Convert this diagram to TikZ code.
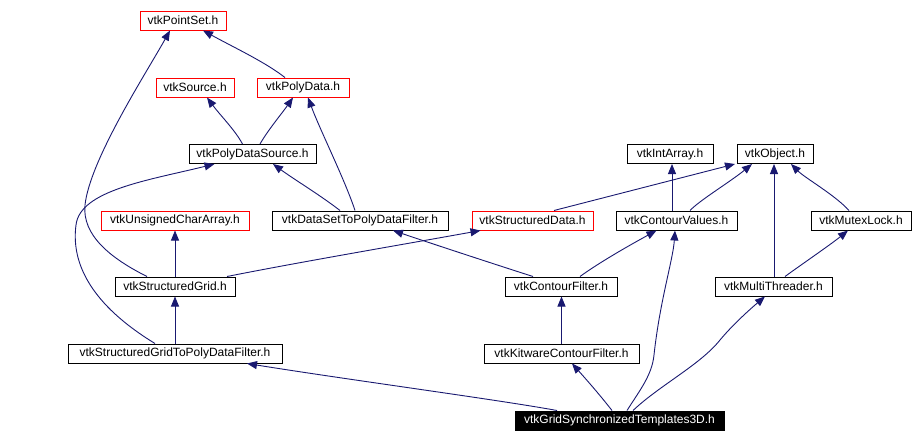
\documentclass[tikz,border=0pt]{standalone}
\usepackage{fontspec}
\setmainfont{Liberation Sans}
\usetikzlibrary{arrows.meta}
\definecolor{edgeblue}{RGB}{25,25,112}
\definecolor{boxred}{RGB}{255,0,0}
\tikzset{
  hdr/.style={draw=black, line width=1pt, minimum height=19pt, inner sep=0pt,
    font=\fontsize{12}{14}\selectfont, anchor=center},
  redhdr/.style={hdr, draw=boxred},
  curhdr/.style={hdr, fill=black, text=white},
  dep/.style={draw=edgeblue, line width=0.9pt, -{Triangle[length=10pt,width=8pt]}}
}
\begin{document}
\begin{tikzpicture}[x=1pt,y=-1pt]
\useasboundingbox (0,0) rectangle (914,442);
% nodes
\node[redhdr, minimum width=86pt]  (pointset) at (183,20.5) {vtkPointSet.h};
\node[redhdr, minimum width=78pt]  (source)   at (195,87.5) {vtkSource.h};
\node[redhdr, minimum width=92pt]  (polydata) at (303,87.5) {vtkPolyData.h};
\node[hdr, minimum width=127pt]    (pds)      at (252.5,154) {vtkPolyDataSource.h};
\node[hdr, minimum width=86pt]     (intarray) at (670,154) {vtkIntArray.h};
\node[hdr, minimum width=76pt]     (object)   at (775,154) {vtkObject.h};
\node[redhdr, minimum width=148pt] (uca)      at (175,220.5) {vtkUnsignedCharArray.h};
\node[hdr, minimum width=176pt]    (dstpdf)   at (360,220.5) {vtkDataSetToPolyDataFilter.h};
\node[redhdr, minimum width=121pt] (sdata)    at (532.5,220.5) {vtkStructuredData.h};
\node[hdr, minimum width=121pt]    (cvalues)  at (676.5,220.5) {vtkContourValues.h};
\node[hdr, minimum width=100pt]    (mutex)    at (861,220.5) {vtkMutexLock.h};
\node[hdr, minimum width=120pt]    (sgrid)    at (175,286.5) {vtkStructuredGrid.h};
\node[hdr, minimum width=112pt]    (cfilter)  at (561,286.5) {vtkContourFilter.h};
\node[hdr, minimum width=117pt]    (mthread)  at (773.5,286.5) {vtkMultiThreader.h};
\node[hdr, minimum width=214pt]    (sgtpdf)   at (175,353.5) {vtkStructuredGridToPolyDataFilter.h};
\node[hdr, minimum width=155pt]    (kcf)      at (561.5,353.5) {vtkKitwareContourFilter.h};
\node[curhdr, minimum width=209pt] (gst)      at (619.5,420.5) {vtkGridSynchronizedTemplates3D.h};
% edges
\draw[dep] ([xshift=-28pt]sgrid.north) .. controls (110,258) and (82,235) .. (85,205)
  .. controls (90,160) and (145,75) .. ([xshift=-13pt]pointset.south);
\draw[dep] ([xshift=-20pt]sgtpdf.north) .. controls (100,310) and (70,270) .. (76,225)
  .. controls (80,190) and (150,180) .. ([xshift=-38pt]pds.south);
\draw[dep] ([xshift=-18pt]polydata.north) .. controls (265,62) and (235,48) .. ([xshift=20pt]pointset.south);
\draw[dep] ([xshift=-10pt]pds.north) .. controls (235,130) and (220,115) .. ([xshift=12pt]source.south);
\draw[dep] ([xshift=7.5pt]pds.north) .. controls (268,130) and (283,112) .. ([xshift=-10pt]polydata.south);
\draw[dep] ([xshift=-5pt]dstpdf.north) .. controls (345,180) and (320,130) .. ([xshift=5pt]polydata.south);
\draw[dep] ([xshift=-20pt]dstpdf.north) .. controls (320,195) and (295,180) .. ([xshift=20.5pt]pds.south);
\draw[dep] (sgrid.north) -- (uca.south);
\draw[dep] ([xshift=52pt]sgrid.north) .. controls (300,262) and (400,245) .. ([xshift=-52pt]sdata.south);
\draw[dep] ([xshift=-28pt]cfilter.north) .. controls (500,266) and (430,243) .. ([xshift=33pt]dstpdf.south);
\draw[dep] ([xshift=19pt]cfilter.north) .. controls (600,262) and (630,245) .. ([xshift=-20pt]cvalues.south);
\draw[dep] ([xshift=21.5pt]sdata.north) -- ([xshift=-40pt]object.south);
\draw[dep] ([xshift=-4.5pt]cvalues.north) -- ([xshift=2pt]intarray.south);
\draw[dep] ([xshift=13.5pt]cvalues.north) .. controls (700,200) and (730,182) .. ([xshift=-23pt]object.south);
\draw[dep] ([xshift=0.5pt]mthread.north) -- ([xshift=-1pt]object.south);
\draw[dep] ([xshift=-12pt]mutex.north) .. controls (835,195) and (805,178) .. ([xshift=16pt]object.south);
\draw[dep] ([xshift=11.5pt]mthread.north) .. controls (805,262) and (830,245) .. ([xshift=-13pt]mutex.south);
\draw[dep] (kcf.north) -- ([xshift=0.5pt]cfilter.south);
\draw[dep] (sgtpdf.north) -- (sgrid.south);
\draw[dep] ([xshift=-62.5pt]gst.north) .. controls (500,400) and (350,380) .. ([xshift=72pt]sgtpdf.south);
\draw[dep] ([xshift=-7.5pt]gst.north) .. controls (600,395) and (585,378) .. ([xshift=10.5pt]kcf.south);
\draw[dep] ([xshift=7.5pt]gst.north) .. controls (640,390) and (652,375) .. (654,355)
  .. controls (660,300) and (673,260) .. ([xshift=-1.5pt]cvalues.south);
\draw[dep] ([xshift=13.5pt]gst.north) .. controls (660,385) and (700,365) .. (720,340)
  .. controls (735,322) and (755,305) .. ([xshift=-8.5pt]mthread.south);
\end{tikzpicture}
\end{document}
